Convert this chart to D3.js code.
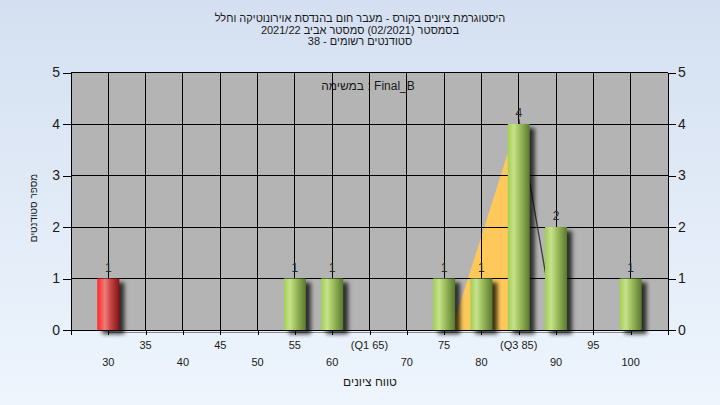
<!DOCTYPE html>
<html><head><meta charset="utf-8">
<script src="https://cdn.jsdelivr.net/npm/d3@7"></script>
<style>html,body{margin:0;padding:0;}svg{display:block;}</style>
</head><body>
<script>
// ---- data ----
const titleLines = ["היסטוגרמת ציונים בקורס - מעבר חום בהנדסת אוירונוטיקה וחלל",
                    "בסמסטר  (02/2021)  סמסטר אביב 2021/22",
                    "סטודנטים רשומים - 38"];
const taskLabel = "במשימה : Final_B";
const yTitle = "מספר סטודנטים";
const xTitle = "טווח ציונים";
const grades = [30, 55, 60, 75, 80, 85, 90, 100];
const counts = [1, 1, 1, 1, 1, 4, 2, 1];
const barKinds = ["fail", "pass", "pass", "pass", "pass", "pass", "pass", "pass"];
const tickValues = [30, 35, 40, 45, 50, 55, 60, 65, 70, 75, 80, 85, 90, 95, 100];
const tickLabels = ["30", "35", "40", "45", "50", "55", "60", "(Q1 65)", "70", "75", "80", "(Q3 85)", "90", "95", "100"];
const yTicks = [0, 1, 2, 3, 4, 5];
const curveX = [76.0, 85, 89.9];
const curveY = [0, 4.1, 0];

// ---- layout ----
const W = 720, H = 405;
const x = d3.scaleLinear().domain([25, 105]).range([71, 668]);
const y = d3.scaleLinear().domain([0, 5]).range([330, 72.5]);
const barW = 22;
const font = "'Liberation Sans', Arial, 'DejaVu Sans', sans-serif";

const svg = d3.select("body").append("svg").attr("width", W).attr("height", H);

// lay out tokens left-to-right, each token rendered on its own
function wordLine(parent, str, cx, cy, size) {
  const g = parent.append("g");
  const gap = size * 0.28;
  const toks = str.split(/ +/);
  const els = toks.map(t => g.append("text").attr("y", cy).attr("font-family", font)
    .attr("font-size", size).attr("fill", "#1a1a1a").text(t));
  const ws = els.map(e => e.node().getComputedTextLength());
  const total = d3.sum(ws) + gap * (toks.length - 1);
  let cur = cx - total / 2;
  els.forEach((e, i) => { e.attr("x", cur); cur += ws[i] + gap; });
  return g;
}
function rtlText(parent, str, cx, cy, size, transform) {
  const t = parent.append("text").attr("x", cx).attr("y", cy).attr("text-anchor", "middle")
    .attr("direction", "rtl").attr("font-family", font).attr("font-size", size)
    .attr("fill", "#1a1a1a").text(str);
  if (transform) t.attr("transform", transform);
  return t;
}

const defs = svg.append("defs");
const bg = defs.append("linearGradient").attr("id", "bg").attr("x1", 0).attr("y1", 0).attr("x2", 0).attr("y2", 1);
bg.append("stop").attr("offset", 0).attr("stop-color", "#d4e0f1");
bg.append("stop").attr("offset", 1).attr("stop-color", "#eef5fd");

const gPass = defs.append("linearGradient").attr("id", "pass").attr("x1", 0).attr("x2", 1).attr("y1", 0).attr("y2", 0);
[[0, "#a2cf52"], [0.28, "#c6e28c"], [0.55, "#9bbd5c"], [1, "#5a782e"]].forEach(s => gPass.append("stop").attr("offset", s[0]).attr("stop-color", s[1]));
const gFail = defs.append("linearGradient").attr("id", "fail").attr("x1", 0).attr("x2", 1).attr("y1", 0).attr("y2", 0);
[[0, "#ff2626"], [0.35, "#f07c7c"], [0.6, "#c64646"], [1, "#8a1212"]].forEach(s => gFail.append("stop").attr("offset", s[0]).attr("stop-color", s[1]));

const blur = defs.append("filter").attr("id", "blur").attr("x", "-50%").attr("y", "-50%").attr("width", "200%").attr("height", "200%");
blur.append("feGaussianBlur").attr("stdDeviation", 2.2);

svg.append("rect").attr("width", W).attr("height", H).attr("fill", "url(#bg)");

// plot background
svg.append("rect").attr("x", x(25)).attr("y", y(5)).attr("width", x(105) - x(25)).attr("height", y(0) - y(5)).attr("fill", "#b4b4b4");

// curve area + line (behind bars)
const pts = curveX.map((v, i) => [v, curveY[i]]);
const peak = d3.maxIndex(curveY);
svg.append("path")
  .attr("d", d3.area().x(d => x(d[0])).y0(y(0)).y1(d => y(d[1]))(pts.slice(0, peak + 1)))
  .attr("fill", "#fec95a");
svg.append("path")
  .attr("d", d3.line().x(d => x(d[0])).y(d => y(d[1]))(pts.slice(peak)))
  .attr("fill", "none").attr("stroke", "#3c3c3c").attr("stroke-width", 1.3);

// gridlines
const grid = svg.append("g").attr("stroke", "#000").attr("stroke-width", 1).attr("shape-rendering", "crispEdges");
tickValues.forEach(v => grid.append("line").attr("x1", x(v)).attr("x2", x(v)).attr("y1", y(5)).attr("y2", y(0)));
yTicks.forEach(v => grid.append("line").attr("x1", x(25)).attr("x2", x(105)).attr("y1", y(v)).attr("y2", y(v)));
grid.append("line").attr("x1", x(25)).attr("x2", x(25)).attr("y1", y(5)).attr("y2", y(0));
grid.append("line").attr("x1", x(105)).attr("x2", x(105)).attr("y1", y(5)).attr("y2", y(0));

// grey base line under axis
svg.append("line").attr("x1", x(30)).attr("x2", x(100)).attr("y1", y(0) + 2.5).attr("y2", y(0) + 2.5)
  .attr("stroke", "#8a8a8a").attr("stroke-width", 1).attr("shape-rendering", "crispEdges");

// bars
const bars = svg.append("g");
grades.forEach((g, i) => {
  const bx = x(g) - barW / 2, by = y(counts[i]), bh = y(0) - y(counts[i]);
  bars.append("rect").attr("x", bx + 5).attr("y", by + 4).attr("width", barW).attr("height", bh)
    .attr("fill", "#000").attr("opacity", 0.75).attr("filter", "url(#blur)");
});
grades.forEach((g, i) => {
  const bx = x(g) - barW / 2, by = y(counts[i]), bh = y(0) - y(counts[i]);
  bars.append("rect").attr("x", bx).attr("y", by).attr("width", barW).attr("height", bh)
    .attr("fill", "url(#" + barKinds[i] + ")");
  bars.append("text").attr("x", x(g)).attr("y", by - 7).attr("text-anchor", "middle")
    .attr("font-family", font).attr("font-size", 12).attr("fill", "#2a2a2a").text(counts[i]);
});

// axis baseline
svg.append("line").attr("x1", x(25)).attr("x2", x(105)).attr("y1", y(0)).attr("y2", y(0))
  .attr("stroke", "#000").attr("shape-rendering", "crispEdges");

// axes
const yAxisL = d3.axisLeft(y).tickValues(yTicks).tickSize(8).tickPadding(3).tickFormat(d3.format("d"));
const yAxisR = d3.axisRight(y).tickValues(yTicks).tickSize(8).tickPadding(2).tickFormat(d3.format("d"));
const gl = svg.append("g").attr("transform", `translate(${x(25)},0)`).call(yAxisL);
const gr = svg.append("g").attr("transform", `translate(${x(105)},0)`).call(yAxisR);
[gl, gr].forEach(g => {
  g.select(".domain").remove();
  g.selectAll("line").attr("stroke", "#000").attr("shape-rendering", "crispEdges");
  g.selectAll("text").attr("font-family", font).attr("font-size", 14).attr("fill", "#1a1a1a");
});

const xAxis = d3.axisBottom(x).tickValues([25].concat(tickValues, [105])).tickSize(5).tickFormat("");
const gx = svg.append("g").attr("transform", `translate(0,${y(0)})`).call(xAxis);
gx.select(".domain").remove();
gx.selectAll("line").attr("stroke", "#000").attr("shape-rendering", "crispEdges");

const xl = svg.append("g");
tickValues.forEach((v, i) => {
  xl.append("text").attr("x", x(v)).attr("y", i % 2 === 1 ? 349 : 366).attr("text-anchor", "middle")
    .attr("font-family", font).attr("font-size", 11).attr("fill", "#1a1a1a").text(tickLabels[i]);
});

// titles
titleLines.forEach((t, i) => rtlText(svg, t, 360, 22 + i * 11.6, 11));
wordLine(svg, taskLabel, 368, 90, 12);
rtlText(svg, xTitle, 370, 386, 12);
rtlText(svg, yTitle, 0, 0, 10, "translate(37,208) rotate(-90)");
</script>
</body></html>
